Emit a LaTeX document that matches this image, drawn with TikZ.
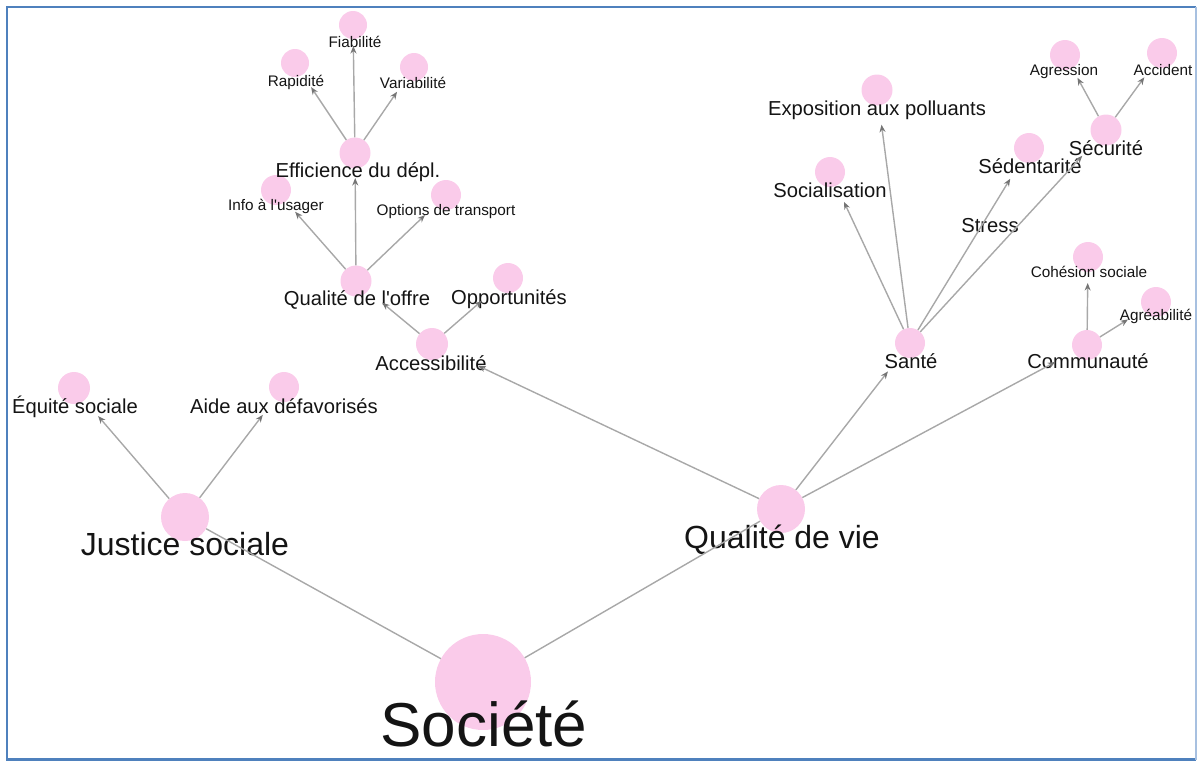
\documentclass[tikz,border=0pt]{standalone}
\usepackage{fontspec}
\setmainfont{Liberation Sans}
\usetikzlibrary{calc,arrows.meta}
\definecolor{pinkc}{HTML}{FACBEA}
\definecolor{edgec}{HTML}{A8A8A8}
\definecolor{tipc}{HTML}{757575}
\definecolor{txt}{HTML}{141414}
\definecolor{frameblue}{HTML}{4F81BD}
\definecolor{framelight}{HTML}{A7C0E0}
\newcommand\arrowto[3]{\draw[conn] (#1) -- ($(#2.center)!#3pt!(#1.center)$);}
\begin{document}
\begin{tikzpicture}[x=1pt,y=-1pt,
  bub/.style={circle,fill=pinkc,draw=none,inner sep=0pt,minimum size=#1},
  lblS/.style={font=\fontsize{15.3}{18}\selectfont,anchor=base,inner sep=0pt,text=txt},
  lblM/.style={font=\fontsize{20.2}{24}\selectfont,anchor=base,inner sep=0pt,text=txt},
  lblL/.style={font=\fontsize{32}{38}\selectfont,anchor=base,inner sep=0pt,text=txt},
  lblXL/.style={font=\fontsize{62}{72}\selectfont,anchor=base,inner sep=0pt,text=txt},
  conn/.style={draw=edgec,line width=1.4pt,-{Stealth[length=7.5pt,width=6pt,color=tipc]}},
  plain/.style={draw=edgec,line width=1.4pt}]
\useasboundingbox (0,0) rectangle (1197,761);
% frame
\draw[frameblue,line width=2.6pt] (1196,7) -- (7,7) -- (7,759.5) -- (1196,759.5);
\draw[framelight,line width=1.4pt] (1196,7) -- (1196,759.5);

% circles
\node[bub=96] (soc) at (483,682) {};
\node[bub=48] (jus) at (185,517) {};
\node[bub=48] (qdv) at (781,509) {};
\node[bub=32] (equ) at (74,388) {};
\node[bub=30] (aide) at (284,387) {};
\node[bub=32] (acc) at (432,344) {};
\node[bub=30] (opp) at (508,278) {};
\node[bub=31] (qof) at (356,281) {};
\node[bub=31] (eff) at (355,153) {};
\node[bub=30] (info) at (276,190) {};
\node[bub=30] (opt) at (446,195) {};
\node[bub=28] (rap) at (295,63) {};
\node[bub=28] (fia) at (353,25) {};
\node[bub=28] (var) at (414,67) {};
\node[bub=30] (san) at (910,343) {};
\node[bub=31] (expo) at (877,90) {};
\node[bub=30] (socz) at (830,172) {};
\node[bub=30] (sed) at (1029,148) {};
\node[bub=31] (secu) at (1106,130) {};
\node[bub=30] (agr) at (1065,55) {};
\node[bub=30] (acci) at (1162,53) {};
\node[bub=30] (com) at (1087,345) {};
\node[bub=30] (coh) at (1088,257) {};
\node[bub=30] (agre) at (1156,302) {};

% labels
\node[lblXL] (l-soc) at (484,746) {Société};
\node[lblL] (l-jus) at (185,555) {Justice sociale};
\node[lblL] (l-qdv) at (782,548) {Qualité de vie};
\node[lblM] (l-equ) at (75,413) {Équité sociale};
\node[lblM] (l-aide) at (284,413) {Aide aux défavorisés};
\node[lblM] (l-acc) at (431,370) {Accessibilité};
\node[lblM] (l-opp) at (509,304) {Opportunités};
\node[lblM] (l-qof) at (357,305) {Qualité de l\textquotesingle offre};
\node[lblM] (l-eff) at (358,177) {Efficience du dépl.};
\node[lblS] (l-info) at (276,210) {Info à l\textquotesingle usager};
\node[lblS] (l-opt) at (446,215) {Options de transport};
\node[lblS] (l-rap) at (296,86) {Rapidité};
\node[lblS] (l-fia) at (355,47) {Fiabilité};
\node[lblS] (l-var) at (413,88) {Variabilité};
\node[lblM] (l-san) at (911,368) {Santé};
\node[lblM] (l-expo) at (877,115) {Exposition aux polluants};
\node[lblM] (l-socz) at (830,197) {Socialisation};
\node[lblM] (l-sed) at (1030,173) {Sédentarité};
\node[lblM] (l-secu) at (1106,155) {Sécurité};
\node[lblM] (l-stress) at (990,232) {Stress};
\node[lblS] (l-agr) at (1064,75) {Agression};
\node[lblS] (l-acci) at (1163,75) {Accident};
\node[lblM] (l-com) at (1088,368) {Communauté};
\node[lblS] (l-coh) at (1089,277) {Cohésion sociale};
\node[lblS] (l-agre) at (1156,320) {Agréabilité};

% connectors
\draw[plain] (soc) -- (jus);
\draw[plain] (soc) -- (qdv);
\arrowto{jus}{equ}{37}
\arrowto{jus}{aide}{35}
\arrowto{qdv}{acc}{51}
\arrowto{qdv}{san}{36}
\arrowto{qdv}{com}{36}
\arrowto{acc}{qof}{34}
\arrowto{acc}{opp}{35}
\arrowto{qof}{eff}{25}
\arrowto{qof}{info}{29}
\arrowto{qof}{opt}{29}
\arrowto{eff}{rap}{29}
\arrowto{eff}{fia}{21}
\arrowto{eff}{var}{30}
\arrowto{san}{socz}{33}
\arrowto{san}{expo}{35}
\arrowto{san}{sed}{36}
\arrowto{san}{secu}{35}
\arrowto{secu}{agr}{26}
\arrowto{secu}{acci}{30}
\arrowto{com}{coh}{26}
\arrowto{com}{agre}{33}
\end{tikzpicture}
\end{document}
